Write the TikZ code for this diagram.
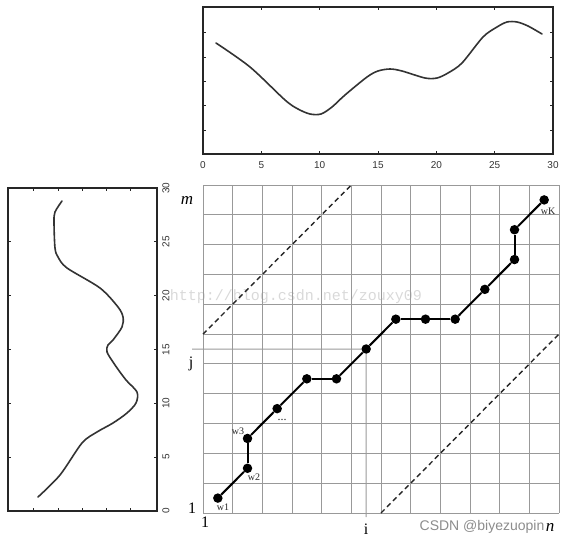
\documentclass[tikz,border=0pt]{standalone}
\usepackage{fontspec}
\setmainfont{Liberation Serif}
\setsansfont{Liberation Sans}
\setmonofont{Liberation Mono}
\begin{document}
\begin{tikzpicture}[x=1pt,y=-1pt,
  axisbox/.style={draw=black!85,line width=1.4pt},
  tickmark/.style={draw=black!85,line width=0.9pt},
  curve/.style={draw=black!80,line width=1.6pt,line join=round,line cap=round},
  gridline/.style={draw=black!40,line width=1pt},
  ticklbl/.style={font=\sffamily\fontsize{10}{10}\selectfont,text=black!80,inner sep=0pt},
  dotnode/.style={circle,fill=black,inner sep=0pt,minimum size=9.5pt},
  pathline/.style={draw=black,line width=2pt},
  diag/.style={draw=black!85,line width=1.4pt,dash pattern=on 5pt off 3.5pt},
  biglbl/.style={font=\fontsize{16}{16}\selectfont,inner sep=0pt},
  wlbl/.style={font=\fontsize{10}{10}\selectfont,inner sep=0.5pt,text=black!85},
]
\useasboundingbox (0,0) rectangle (568,544);

% watermarks
\node[font=\ttfamily\fontsize{15}{15}\selectfont,text=black!15] (wm1) at (296,297) {http://blog.csdn.net/zouxy09};

% ---------- top plot ----------
\draw[axisbox] (203,7) rectangle (553,154);
\foreach \u in {5,10,...,25}{
  \draw[tickmark] ({203+\u*350/30},154) -- ++(0,-3);
  \draw[tickmark] ({203+\u*350/30},7) -- ++(0,3);}
\foreach \yy in {32,57,81,105,130}{
  \draw[tickmark] (203,\yy) -- ++(3,0);
  \draw[tickmark] (553,\yy) -- ++(-3,0);}
\foreach \u in {0,5,...,30}{
  \node[ticklbl] (tx\u) at ({203+\u*350/30},165) {\u};}
\draw[curve] plot[smooth,tension=0.5] coordinates {
 (216,43) (250,67) (285,100) (298,109) (310,114) (321,114) (332,107) (345,95)
 (367,77) (378,71) (390,69) (402,71) (425,78) (437,78) (448,73) (462,63)
 (483,37) (497,27) (507,22) (517,22) (528,26) (542,34)};

% ---------- left plot ----------
\draw[axisbox] (8,188) rectangle (157,511);
\foreach \v in {5,10,...,25}{
  \draw[tickmark] (8,{511-\v*323/30}) -- ++(3,0);
  \draw[tickmark] (157,{511-\v*323/30}) -- ++(-3,0);}
\foreach \xx in {33,58,82,106,130}{
  \draw[tickmark] (\xx,511) -- ++(0,-3);
  \draw[tickmark] (\xx,188) -- ++(0,3);}
\foreach \v in {0,5,...,30}{
  \node[ticklbl,rotate=90] (ty\v) at (166,{511-\v*323/30}) {\v};}
\draw[curve] plot[smooth,tension=0.5] coordinates {
 (38,497) (60,475) (82,443) (97,432) (113,423) (127,413) (136,403) (137,392)
 (126,380) (115,365) (107,352) (108,345) (113,340) (122,327) (123,317) (118,307)
 (100,288) (67,268) (58,257) (55,248) (54,222) (55,212) (62,201)};

% ---------- grid ----------
\foreach \k in {0,...,12}
  \draw[gridline] ({203+\k*29.667},185) -- ({203+\k*29.667},513);
\foreach \k in {0,...,11}
  \draw[gridline] (203,{513-\k*29.818}) -- (559,{513-\k*29.818});

% dashed band limits
\coordinate (da1) at (203,334.1);
\coordinate (da2) at (351.3,185);
\coordinate (db1) at (381,513);
\coordinate (db2) at (559,334.1);
\draw[diag] (da1) -- (da2);
\draw[diag] (db1) -- (db2);

% warping path points
\foreach \c/\r [count=\n from 0] in {0/0,1/1,1/2,2/3,3/4,4/4,5/5,6/6,7/6,8/6,9/7,10/8,10/9,11/10}
  \node[dotnode] (d\n) at ({203+(\c+0.5)*29.667},{513-(\r+0.5)*29.818}) {};

% i / j guide lines
\coordinate (jl) at (192,349);
\coordinate (il) at (366.2,517);
\draw[gridline] (jl) -- (d6);
\draw[gridline] (d6) -- (il);

% path
\foreach \a in {0,...,12}{
  \pgfmathtruncatemacro{\b}{\a+1}
  \draw[pathline] (d\a) -- (d\b);}

% labels
\node[biglbl,font=\fontsize{17}{17}\selectfont\itshape] (lm) at (187,200) {m};
\node[font=\sffamily\fontsize{14}{14}\selectfont,text=black!45] (wm2) at (482,527) {CSDN @biyezuopin};
\node[biglbl,font=\fontsize{17}{17}\selectfont\itshape] (ln) at (550,527) {n};
\node[biglbl] (lj) at (191,364) {j};
\node[biglbl] (li) at (366,529) {i};
\node[biglbl] (l1a) at (192,508) {1};
\node[biglbl] (l1b) at (205,522) {1};
\node[wlbl] (w1) at (223,507) {w1};
\node[wlbl] (w2) at (254,477) {w2};
\node[wlbl] (w3) at (238,431) {w3};
\node[wlbl,font=\fontsize{12}{12}\selectfont,anchor=base] (wd) at (282,420) {...};
\node[wlbl] (wK) at (548,211) {wK};
\end{tikzpicture}
\end{document}
